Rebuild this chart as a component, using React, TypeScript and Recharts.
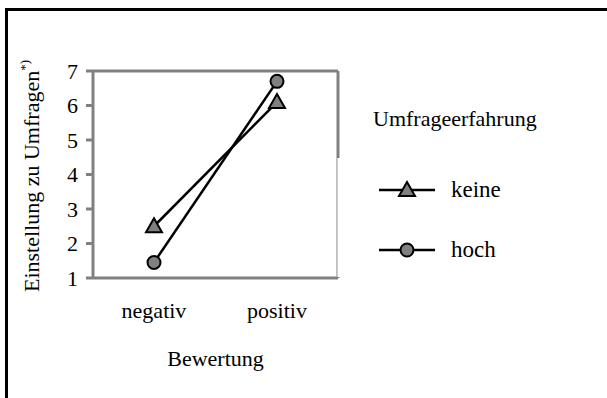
import React from 'react';
import { LineChart, Line, XAxis, YAxis, Legend } from 'recharts';

const categories = ['negativ', 'positiv'];
const keineValues = [2.5, 6.1];
const hochValues = [1.45, 6.7];
const yTicks = [1, 2, 3, 4, 5, 6, 7];

const data = categories.map((name, i) => ({
  name,
  keine: keineValues[i],
  hoch: hochValues[i],
}));

const FONT = '"Liberation Serif", "Times New Roman", Times, serif';
const GRAY = '#808080';

const TriangleDot = (props: any) => {
  const { cx, cy } = props;
  if (cx == null || cy == null) return null;
  return (
    <polygon
      points={`${cx - 8},${cy + 6} ${cx + 8},${cy + 6} ${cx},${cy - 8}`}
      fill={GRAY}
      stroke="#000"
      strokeWidth={2}
    />
  );
};

const CircleDot = (props: any) => {
  const { cx, cy } = props;
  if (cx == null || cy == null) return null;
  return <circle cx={cx} cy={cy} r={6.5} fill={GRAY} stroke="#000" strokeWidth={2} />;
};

const legendItems = [
  { label: 'keine', Dot: TriangleDot, top: 72 },
  { label: 'hoch', Dot: CircleDot, top: 132 },
];

const LegendBox = () => (
  <div style={{ position: 'relative', width: 220, height: 170, fontFamily: FONT, color: '#000' }}>
    {/* white patch hiding the lower part of the right frame line */}
    <div
      style={{
        position: 'absolute',
        left: -36,
        top: 52,
        width: 6,
        height: 119,
        background: '#fff',
        borderLeft: '1px solid #c8c8c8',
      }}
    />
    <div style={{ position: 'absolute', left: 0, top: 0, fontSize: 22, lineHeight: '26px', fontFamily: FONT, whiteSpace: 'nowrap' }}>
      Umfrageerfahrung
    </div>
    {legendItems.map(({ label, Dot, top }) => (
      <div key={label} style={{ position: 'absolute', left: 6, top, display: 'flex', alignItems: 'center' }}>
        <svg width={56} height={24}>
          <line x1={0} y1={12} x2={56} y2={12} stroke="#000" strokeWidth={2.5} />
          <Dot cx={28} cy={12} />
        </svg>
        <span style={{ marginLeft: 16, fontSize: 23, lineHeight: '24px', fontFamily: FONT }}>{label}</span>
      </div>
    ))}
  </div>
);

const YLabel = () => (
  <text
    x={39}
    y={176}
    transform="rotate(-90, 39, 176)"
    textAnchor="middle"
    fontFamily={FONT}
    fontSize={22}
    fill="#000"
  >
    <tspan>Einstellung zu Umfragen</tspan>
    <tspan dy={-10} fontSize={13}>*)</tspan>
  </text>
);

const XLabel = (props: any) => {
  const { viewBox } = props;
  const cx = viewBox.x + viewBox.width / 2;
  return (
    <text x={cx} y={366} textAnchor="middle" fontFamily={FONT} fontSize={22} fill="#000">
      Bewertung
    </text>
  );
};

export default function App() {
  return (
    <div
      style={{
        position: 'absolute',
        left: 0,
        top: 0,
        width: 607,
        height: 398,
        overflow: 'hidden',
        background: '#fff',
        fontFamily: FONT,
      }}
    >
      <div
        style={{
          position: 'absolute',
          left: 5,
          top: 8,
          width: 700,
          height: 500,
          borderLeft: '3px solid #000',
          borderTop: '3px solid #000',
        }}
      />
      <LineChart
        width={607}
        height={398}
        data={data}
        margin={{ top: 70, right: 268, bottom: 80, left: 33 }}
        style={{ position: 'absolute', left: 0, top: 0 }}
      >
        <XAxis
          dataKey="name"
          padding={{ left: 61, right: 61 }}
          axisLine={{ stroke: GRAY, strokeWidth: 3 }}
          tickLine={false}
          tickSize={0}
          tickMargin={24}
          tick={{ fill: '#000', fontFamily: FONT, fontSize: 22 }}
          height={40}
          label={<XLabel />}
        />
        <XAxis
          xAxisId="top"
          dataKey="name"
          orientation="top"
          padding={{ left: 61, right: 61 }}
          axisLine={{ stroke: GRAY, strokeWidth: 3 }}
          tick={false}
          tickLine={false}
          height={1}
        />
        <YAxis
          domain={[1, 7]}
          ticks={yTicks}
          interval={0}
          width={60}
          axisLine={{ stroke: GRAY, strokeWidth: 3 }}
          tickLine={{ stroke: GRAY, strokeWidth: 3 }}
          tickSize={7}
          tickMargin={8}
          tick={{ fill: '#000', fontFamily: FONT, fontSize: 22 }}
          label={<YLabel />}
        />
        <YAxis
          yAxisId="right"
          orientation="right"
          domain={[1, 7]}
          axisLine={{ stroke: GRAY, strokeWidth: 3 }}
          tick={false}
          tickLine={false}
          width={1}
        />
        <Legend
          layout="horizontal"
          align="center"
          verticalAlign="middle"
          content={<LegendBox />}
          wrapperStyle={{ position: 'absolute', left: 373, top: 106, width: 220 }}
        />
        <Line
          dataKey="keine"
          stroke="#000"
          strokeWidth={2.5}
          dot={<TriangleDot />}
          activeDot={false}
          isAnimationActive={false}
        />
        <Line
          dataKey="hoch"
          stroke="#000"
          strokeWidth={2.5}
          dot={<CircleDot />}
          activeDot={false}
          isAnimationActive={false}
        />
      </LineChart>
    </div>
  );
}
